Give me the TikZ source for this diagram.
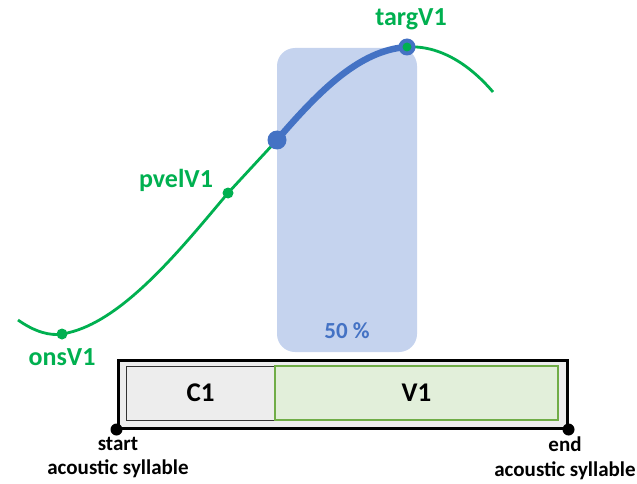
\documentclass[tikz,border=0pt]{standalone}
\usepackage{fontspec}
\setmainfont{Carlito}
\definecolor{cgreen}{HTML}{00B050}
\definecolor{cblue}{HTML}{4472C4}
\definecolor{cband}{HTML}{C5D3EE}
\definecolor{cgrey}{HTML}{EDEDED}
\definecolor{cvfill}{HTML}{E2EFDA}
\definecolor{cvline}{HTML}{70AD47}
\begin{document}
\begin{tikzpicture}[x=1pt,y=-1pt,
  glabel/.style={text=cgreen,font=\fontsize{26}{28}\selectfont\bfseries,inner sep=0pt},
  blabel/.style={text=black,font=\fontsize{21}{24.5}\selectfont\bfseries,inner sep=0pt,align=center},
  seglabel/.style={font=\fontsize{27}{30}\selectfont\bfseries,inner sep=0pt},
  gdot/.style={circle,fill=cgreen,inner sep=0pt,minimum size=11pt},
  bdot/.style={circle,fill=cblue,inner sep=0pt,minimum size=19pt},
  kdot/.style={circle,fill=black,inner sep=0pt,minimum size=12pt}]
\useasboundingbox (0,0) rectangle (637,484);
% band
\node[fill=cband,rounded corners=18pt,minimum width=140pt,minimum height=304pt,inner sep=0pt] (band) at (347,200) {};
\node[text=cblue,font=\fontsize{23}{26}\selectfont\bfseries,inner sep=0pt] (pct) at (347,331) {50 \%};
% syllable box
\node[draw=black,line width=3pt,fill=cgrey,minimum width=449pt,minimum height=68pt,inner sep=0pt] (outer) at (342.5,394) {};
\node[draw=black!80,line width=1pt,fill=cgrey,minimum width=149pt,minimum height=54pt,inner sep=0pt] (c1) at (200.5,393) {};
\node[draw=cvline,line width=1.5pt,fill=cvfill,minimum width=283pt,minimum height=54pt,inner sep=0pt] (v1) at (416.5,393) {};
\node[seglabel] (c1t) at (c1.center) {C1};
\node[seglabel] (v1t) at (v1.center) {V1};
\node[kdot] (start) at (outer.south west) {};
\node[kdot] (end) at (outer.south east) {};
\node[blabel,anchor=north] (startt) at (118,437) {start\\acoustic syllable};
\node[blabel,anchor=north] (endt) at (565,437) {end\\acoustic syllable};
% curve
\coordinate (c0) at (18,320);
\coordinate (ons) at (62,334);
\coordinate (pvel) at (228,193);
\coordinate (mid) at (277,140);
\coordinate (targ) at (407,47);
\coordinate (c9) at (493,92);
\draw[cgreen,line width=2.8pt] (c0) .. controls (35,332) and (50,336) .. (ons)
  .. controls (120,325) and (180,250) .. (pvel) -- (mid);
\draw[cgreen,line width=2.8pt] (targ) .. controls (440,45) and (470,65) .. (c9);
\draw[cblue,line width=6.5pt] (mid) .. controls (320,90) and (360,50) .. (targ);
\node[gdot] (onsd) at (ons) {};
\node[gdot] (pveld) at (pvel) {};
\node[bdot] (midd) at (mid) {};
\node[bdot,minimum size=17pt] (targb) at (targ) {};
\node[gdot,minimum size=9pt] (targd) at (targ) {};
\node[glabel] (onst) at (62,357) {onsV1};
\node[glabel] (pvelt) at (176,180) {pvelV1};
\node[glabel] (targt) at (411,19) {targV1};
\end{tikzpicture}
\end{document}
